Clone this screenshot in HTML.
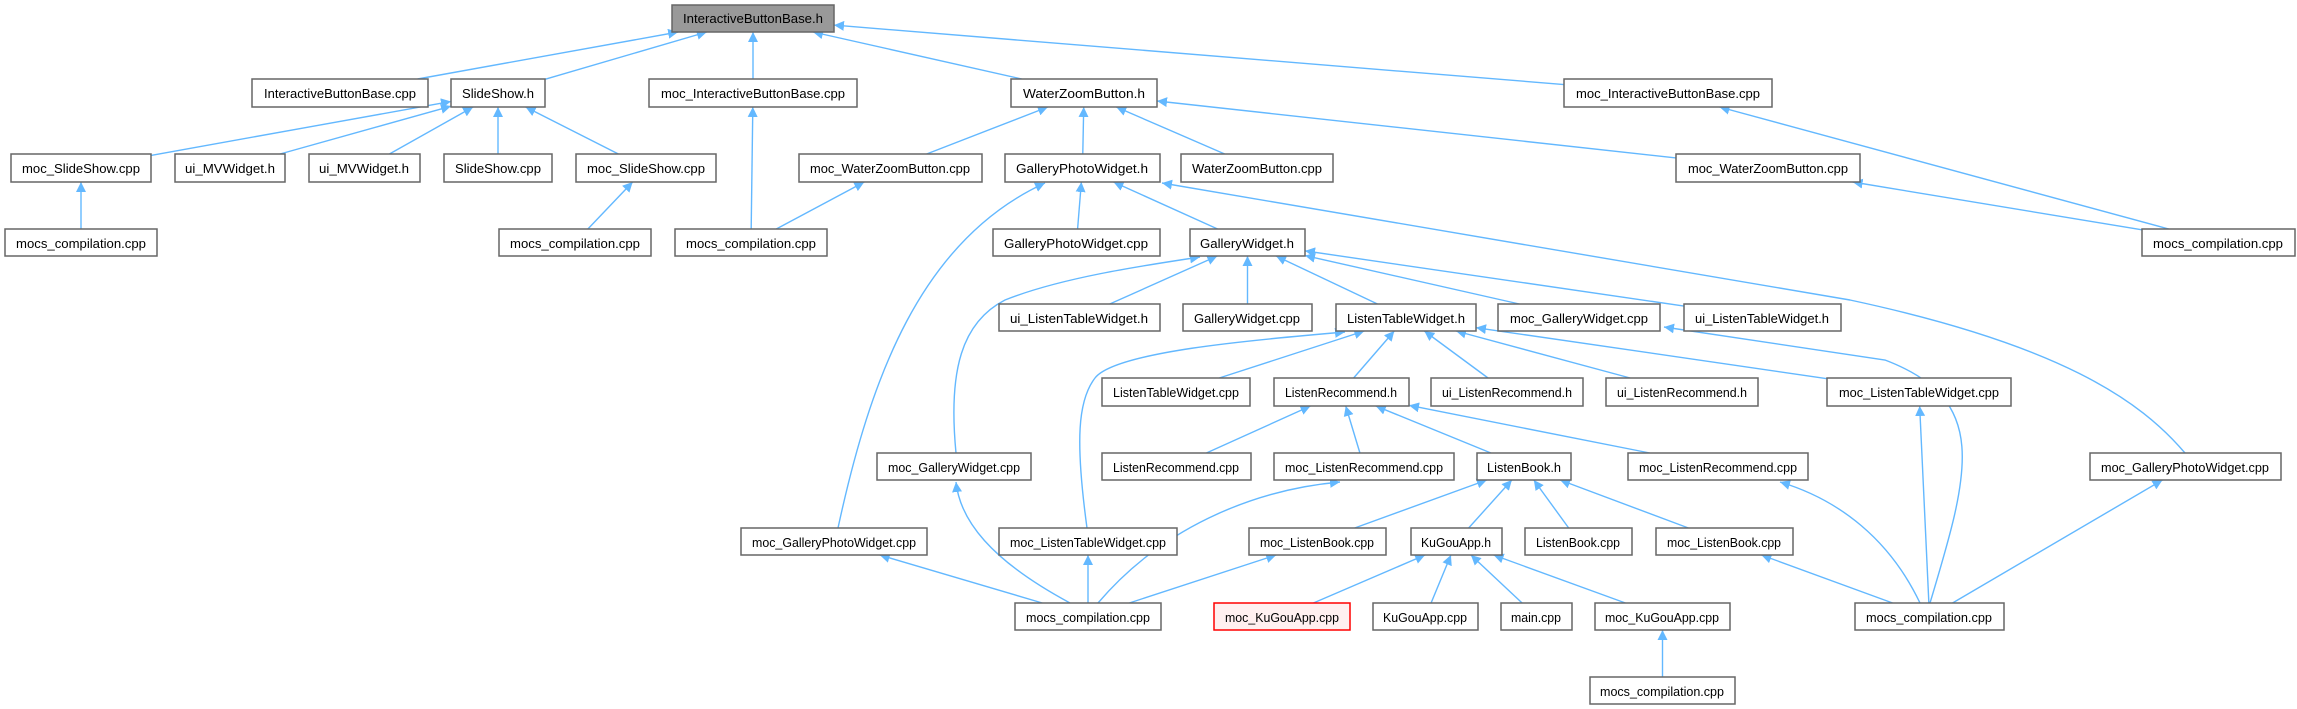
<!DOCTYPE html>
<html><head><meta charset="utf-8">
<style>
html,body{margin:0;padding:0;background:#fff;}
svg{display:block;}
text{font-family:"Liberation Sans",sans-serif;font-size:13px;fill:#000;}
</style></head>
<body>
<svg id="g" xmlns="http://www.w3.org/2000/svg" width="2297" height="709" viewBox="0 0 2297 709">
<defs>
<marker id="a" viewBox="0 0 10 10" refX="10" refY="5" markerWidth="10" markerHeight="10" markerUnits="userSpaceOnUse" orient="auto">
<path d="M0,0 L10,5 L0,10 z" fill="#63b8ff"/>
</marker>
</defs>
<g id="edges" fill="none" stroke="#63b8ff" stroke-width="1.4"></g>
<g id="nodes">
<g id="n0"><rect x="672" y="5" width="162" height="27" fill="#999" stroke="#666"/><text x="753" y="23" text-anchor="middle" textLength="140" lengthAdjust="spacingAndGlyphs">InteractiveButtonBase.h</text></g>
<g id="n1"><rect x="252" y="79" width="176" height="28"/><text x="340" y="98" text-anchor="middle" textLength="152" lengthAdjust="spacingAndGlyphs">InteractiveButtonBase.cpp</text></g>
<g id="n2"><rect x="451" y="79" width="94" height="28"/><text x="498" y="98" text-anchor="middle" textLength="72" lengthAdjust="spacingAndGlyphs">SlideShow.h</text></g>
<g id="n3"><rect x="649" y="79" width="208" height="28"/><text x="753" y="98" text-anchor="middle" textLength="184" lengthAdjust="spacingAndGlyphs">moc_InteractiveButtonBase.cpp</text></g>
<g id="n4"><rect x="1011" y="79" width="146" height="28"/><text x="1084" y="98" text-anchor="middle" textLength="122" lengthAdjust="spacingAndGlyphs">WaterZoomButton.h</text></g>
<g id="n5"><rect x="1564" y="79" width="208" height="28"/><text x="1668" y="98" text-anchor="middle" textLength="184" lengthAdjust="spacingAndGlyphs">moc_InteractiveButtonBase.cpp</text></g>

<g id="n6"><rect x="11" y="154" width="140" height="28"/><text x="81" y="173" text-anchor="middle" textLength="118" lengthAdjust="spacingAndGlyphs">moc_SlideShow.cpp</text></g>
<g id="n7"><rect x="175" y="154" width="110" height="28"/><text x="230" y="173" text-anchor="middle" textLength="90" lengthAdjust="spacingAndGlyphs">ui_MVWidget.h</text></g>
<g id="n8"><rect x="309" y="154" width="111" height="28"/><text x="364" y="173" text-anchor="middle" textLength="90" lengthAdjust="spacingAndGlyphs">ui_MVWidget.h</text></g>
<g id="n9"><rect x="444" y="154" width="108" height="28"/><text x="498" y="173" text-anchor="middle" textLength="86" lengthAdjust="spacingAndGlyphs">SlideShow.cpp</text></g>
<g id="n10"><rect x="576" y="154" width="140" height="28"/><text x="646" y="173" text-anchor="middle" textLength="118" lengthAdjust="spacingAndGlyphs">moc_SlideShow.cpp</text></g>
<g id="n11"><rect x="799" y="154" width="183" height="28"/><text x="890" y="173" text-anchor="middle" textLength="160" lengthAdjust="spacingAndGlyphs">moc_WaterZoomButton.cpp</text></g>
<g id="n12"><rect x="1005" y="154" width="155" height="28"/><text x="1082" y="173" text-anchor="middle" textLength="132" lengthAdjust="spacingAndGlyphs">GalleryPhotoWidget.h</text></g>
<g id="n13"><rect x="1181" y="154" width="152" height="28"/><text x="1257" y="173" text-anchor="middle" textLength="130" lengthAdjust="spacingAndGlyphs">WaterZoomButton.cpp</text></g>
<g id="n14"><rect x="1676" y="154" width="184" height="28"/><text x="1768" y="173" text-anchor="middle" textLength="160" lengthAdjust="spacingAndGlyphs">moc_WaterZoomButton.cpp</text></g>

<g id="n15"><rect x="5" y="229" width="152" height="27"/><text x="81" y="248" text-anchor="middle" textLength="130" lengthAdjust="spacingAndGlyphs">mocs_compilation.cpp</text></g>
<g id="n16"><rect x="499" y="229" width="152" height="27"/><text x="575" y="248" text-anchor="middle" textLength="130" lengthAdjust="spacingAndGlyphs">mocs_compilation.cpp</text></g>
<g id="n17"><rect x="675" y="229" width="152" height="27"/><text x="751" y="248" text-anchor="middle" textLength="130" lengthAdjust="spacingAndGlyphs">mocs_compilation.cpp</text></g>
<g id="n18"><rect x="993" y="229" width="167" height="27"/><text x="1076" y="248" text-anchor="middle" textLength="144" lengthAdjust="spacingAndGlyphs">GalleryPhotoWidget.cpp</text></g>
<g id="n19"><rect x="1190" y="229" width="115" height="27"/><text x="1247" y="248" text-anchor="middle" textLength="94" lengthAdjust="spacingAndGlyphs">GalleryWidget.h</text></g>
<g id="n20"><rect x="2142" y="229" width="153" height="27"/><text x="2218" y="248" text-anchor="middle" textLength="130" lengthAdjust="spacingAndGlyphs">mocs_compilation.cpp</text></g>

<g id="n21"><rect x="999" y="304" width="161" height="27"/><text x="1079" y="323" text-anchor="middle" textLength="138" lengthAdjust="spacingAndGlyphs">ui_ListenTableWidget.h</text></g>
<g id="n22"><rect x="1183" y="304" width="129" height="27"/><text x="1247" y="323" text-anchor="middle" textLength="106" lengthAdjust="spacingAndGlyphs">GalleryWidget.cpp</text></g>
<g id="n23"><rect x="1336" y="304" width="140" height="27"/><text x="1406" y="323" text-anchor="middle" textLength="118" lengthAdjust="spacingAndGlyphs">ListenTableWidget.h</text></g>
<g id="n24"><rect x="1498" y="304" width="162" height="27"/><text x="1579" y="323" text-anchor="middle" textLength="138" lengthAdjust="spacingAndGlyphs">moc_GalleryWidget.cpp</text></g>
<g id="n25"><rect x="1684" y="304" width="157" height="27"/><text x="1762" y="323" text-anchor="middle" textLength="134" lengthAdjust="spacingAndGlyphs">ui_ListenTableWidget.h</text></g>

<g id="n26"><rect x="1102" y="378" width="148" height="28"/><text x="1176" y="397" text-anchor="middle" textLength="126" lengthAdjust="spacingAndGlyphs">ListenTableWidget.cpp</text></g>
<g id="n27"><rect x="1274" y="378" width="135" height="28"/><text x="1341" y="397" text-anchor="middle" textLength="112" lengthAdjust="spacingAndGlyphs">ListenRecommend.h</text></g>
<g id="n28"><rect x="1431" y="378" width="152" height="28"/><text x="1507" y="397" text-anchor="middle" textLength="130" lengthAdjust="spacingAndGlyphs">ui_ListenRecommend.h</text></g>
<g id="n29"><rect x="1606" y="378" width="152" height="28"/><text x="1682" y="397" text-anchor="middle" textLength="130" lengthAdjust="spacingAndGlyphs">ui_ListenRecommend.h</text></g>
<g id="n30"><rect x="1827" y="378" width="184" height="28"/><text x="1919" y="397" text-anchor="middle" textLength="160" lengthAdjust="spacingAndGlyphs">moc_ListenTableWidget.cpp</text></g>

<g id="n31"><rect x="877" y="453" width="154" height="27"/><text x="954" y="472" text-anchor="middle" textLength="132" lengthAdjust="spacingAndGlyphs">moc_GalleryWidget.cpp</text></g>
<g id="n32"><rect x="1102" y="453" width="149" height="27"/><text x="1176" y="472" text-anchor="middle" textLength="126" lengthAdjust="spacingAndGlyphs">ListenRecommend.cpp</text></g>
<g id="n33"><rect x="1274" y="453" width="180" height="27"/><text x="1364" y="472" text-anchor="middle" textLength="158" lengthAdjust="spacingAndGlyphs">moc_ListenRecommend.cpp</text></g>
<g id="n34"><rect x="1477" y="453" width="94" height="27"/><text x="1524" y="472" text-anchor="middle" textLength="74" lengthAdjust="spacingAndGlyphs">ListenBook.h</text></g>
<g id="n35"><rect x="1628" y="453" width="180" height="27"/><text x="1718" y="472" text-anchor="middle" textLength="158" lengthAdjust="spacingAndGlyphs">moc_ListenRecommend.cpp</text></g>
<g id="n36"><rect x="2090" y="453" width="191" height="27"/><text x="2185" y="472" text-anchor="middle" textLength="168" lengthAdjust="spacingAndGlyphs">moc_GalleryPhotoWidget.cpp</text></g>

<g id="n37"><rect x="741" y="528" width="186" height="27"/><text x="834" y="547" text-anchor="middle" textLength="164" lengthAdjust="spacingAndGlyphs">moc_GalleryPhotoWidget.cpp</text></g>
<g id="n38"><rect x="999" y="528" width="178" height="27"/><text x="1088" y="547" text-anchor="middle" textLength="156" lengthAdjust="spacingAndGlyphs">moc_ListenTableWidget.cpp</text></g>
<g id="n39"><rect x="1249" y="528" width="137" height="27"/><text x="1317" y="547" text-anchor="middle" textLength="114" lengthAdjust="spacingAndGlyphs">moc_ListenBook.cpp</text></g>
<g id="n40"><rect x="1411" y="528" width="91" height="27"/><text x="1456" y="547" text-anchor="middle" textLength="70" lengthAdjust="spacingAndGlyphs">KuGouApp.h</text></g>
<g id="n41"><rect x="1525" y="528" width="107" height="27"/><text x="1578" y="547" text-anchor="middle" textLength="84" lengthAdjust="spacingAndGlyphs">ListenBook.cpp</text></g>
<g id="n42"><rect x="1656" y="528" width="137" height="27"/><text x="1724" y="547" text-anchor="middle" textLength="114" lengthAdjust="spacingAndGlyphs">moc_ListenBook.cpp</text></g>

<g id="n43"><rect x="1015" y="603" width="146" height="27"/><text x="1088" y="622" text-anchor="middle" textLength="124" lengthAdjust="spacingAndGlyphs">mocs_compilation.cpp</text></g>
<g id="n44"><rect x="1214" y="603" width="136" height="27" fill="#fff0f0" stroke="#f00"/><text x="1282" y="622" text-anchor="middle" textLength="114" lengthAdjust="spacingAndGlyphs">moc_KuGouApp.cpp</text></g>
<g id="n45"><rect x="1373" y="603" width="105" height="27"/><text x="1425" y="622" text-anchor="middle" textLength="84" lengthAdjust="spacingAndGlyphs">KuGouApp.cpp</text></g>
<g id="n46"><rect x="1501" y="603" width="71" height="27"/><text x="1536" y="622" text-anchor="middle" textLength="50" lengthAdjust="spacingAndGlyphs">main.cpp</text></g>
<g id="n47"><rect x="1595" y="603" width="135" height="27"/><text x="1662" y="622" text-anchor="middle" textLength="114" lengthAdjust="spacingAndGlyphs">moc_KuGouApp.cpp</text></g>
<g id="n48"><rect x="1855" y="603" width="149" height="27"/><text x="1929" y="622" text-anchor="middle" textLength="126" lengthAdjust="spacingAndGlyphs">mocs_compilation.cpp</text></g>

<g id="n49"><rect x="1590" y="677" width="145" height="27"/><text x="1662" y="696" text-anchor="middle" textLength="124" lengthAdjust="spacingAndGlyphs">mocs_compilation.cpp</text></g>
</g>
</svg>
<script>
(function(){
var ns="http://www.w3.org/2000/svg";
var R={};
document.querySelectorAll('#nodes > g').forEach(function(g){
  var r=g.querySelector('rect');
  if(!r.getAttribute('fill')){r.setAttribute('fill','#fff');r.setAttribute('stroke','#666');}
  r.setAttribute('stroke-width','1.5');
  var x=+r.getAttribute('x'),y=+r.getAttribute('y'),w=+r.getAttribute('width'),h=+r.getAttribute('height');
  R[g.id.slice(1)]={x:x,y:y,w:w,h:h};
});
var E=document.getElementById('edges');
function add(d){var p=document.createElementNS(ns,'path');p.setAttribute('d',d);p.setAttribute('marker-end','url(#a)');E.appendChild(p);}
function clip(b,sx,sy){
  var cx=b.x+b.w/2,cy=b.y+b.h/2,dx=sx-cx,dy=sy-cy;
  var tx=dx?(b.w/2)/Math.abs(dx):1e9,ty=dy?(b.h/2)/Math.abs(dy):1e9,t=Math.min(tx,ty);
  return [cx+dx*t,cy+dy*t];
}
function line(c,p){
  var a=R[c],b=R[p];
  var bcx=b.x+b.w/2,bcy=b.y+b.h/2;
  var q=clip(a,bcx,bcy), sx=q[0], sy=q[1];
  var e=clip(b,sx,sy);
  add('M'+sx+','+sy+' L'+e[0]+','+e[1]);
}
var S=[[1,0],[2,0],[3,0],[4,0],[5,0],
[6,2],[7,2],[8,2],[9,2],[10,2],
[15,6],[16,10],[17,3],[17,11],
[11,4],[12,4],[13,4],[14,4],
[20,5],[20,14],
[18,12],[19,12],
[21,19],[22,19],[23,19],[24,19],[25,19],
[26,23],[27,23],[28,23],[29,23],[30,23],
[32,27],[33,27],[34,27],[35,27],
[39,34],[40,34],[41,34],[42,34],
[44,40],[45,40],[46,40],[47,40],[49,47],
[43,37],[43,38],[43,39],
[48,30],[48,36],[48,42]];
S.forEach(function(s){line(s[0],s[1]);});
add('M838,528 C870,380 920,240 1045,183');
add('M2185,453 C2140,400 2060,345 1850,300 L1162,183');
add('M956,453 C948,370 962,322 1005,300 C1060,278 1140,266 1200,257');
add('M1087,528 C1075,440 1078,400 1095,378 C1115,352 1250,340 1345,332');
add('M1070,603 C990,560 960,520 956,482');
add('M1098,603 C1160,530 1250,490 1340,482');
add('M1930,603 C1970,470 1990,400 1885,360 L1664,327');
add('M1920,603 C1890,540 1840,500 1780,482');
})();
</script>
</body></html>
